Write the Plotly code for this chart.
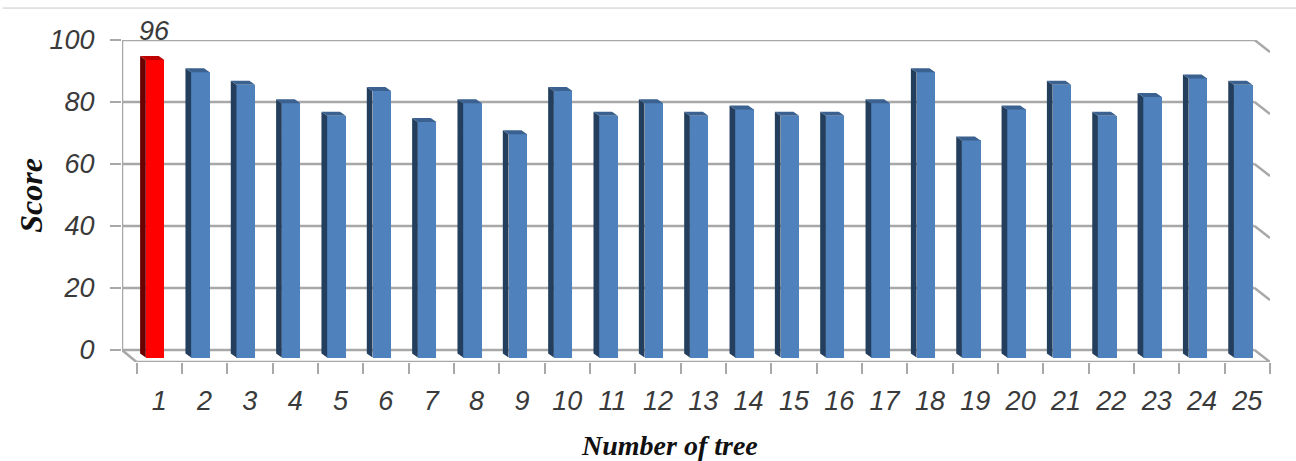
import plotly.graph_objects as go

trees = list(range(1, 26))
scores = [96, 92, 88, 82, 78, 86, 76, 82, 72, 86, 78, 82, 78, 80, 78, 78, 82, 92, 70, 80, 88, 78, 84, 90, 88]
y_ticks = [0, 20, 40, 60, 80, 100]

W, H = 1296, 461
L, R, T, B = 121.5, 1270, 39.5, 362
X0 = 0.18
X1 = 25.5
Y_MIN = -12 / 3.105
GRID = "#A8A8A8"
TXT = "#3A3A3A"
FONT = "Liberation Sans"
SERIF = "Liberation Serif"

WALL_X = 25.16
FLOOR_L = 0.5
DIAG = -Y_MIN
BASE = -7.5 / 3.105          # front plane of the bars, in y units
BAR_W = 0.41
BAR_SHIFT = -0.09
DEPTH_X = 5.7 / 45.36
DEPTH_Y = 4 / 3.105


def px_x(p):
    return (p - L) / (R - L)


def px_y(p):
    return (B - p) / (B - T)


def poly(idx, kind):
    xs, ys = [], []
    for i in idx:
        x, v = trees[i] + BAR_SHIFT, scores[i]
        a, b = x - BAR_W / 2, x + BAR_W / 2
        top = BASE + v
        if kind == "side":
            px = [a, a - DEPTH_X, a - DEPTH_X, a, a]
            py = [BASE, BASE + DEPTH_Y, top + DEPTH_Y, top, BASE]
        else:
            px = [a, a - DEPTH_X, b - DEPTH_X, b, a]
            py = [top, top + DEPTH_Y, top + DEPTH_Y, top, top]
        xs += px + [None]
        ys += py + [None]
    return xs, ys


fig = go.Figure()
fig.add_bar(
    x=trees, y=scores, base=BASE, width=BAR_W, offset=BAR_SHIFT - BAR_W / 2,
    marker=dict(color=["#FF0000"] + ["#4F81BD"] * 24, line=dict(width=0)),
    showlegend=False,
)
blue = list(range(1, 25))
for idx, kind, col in [
    (blue, "side", "#243F5E"), (blue, "top", "#3A618F"),
    ([0], "side", "#6A0000"), ([0], "top", "#C00000"),
]:
    xs, ys = poly(idx, kind)
    fig.add_scatter(x=xs, y=ys, mode="lines", fill="toself", fillcolor=col,
                    line=dict(width=0, color=col), hoverinfo="skip", showlegend=False)

shapes = [dict(type="line", xref="paper", yref="paper",
               x0=px_x(2), x1=px_x(W), y0=px_y(7.5), y1=px_y(7.5),
               line=dict(color="#C8C8C8", width=1))]
line = dict(color=GRID, width=2.5)
for t in y_ticks:
    shapes.append(dict(type="line", x0=X0, x1=WALL_X, y0=t, y1=t, line=line, layer="below"))
    shapes.append(dict(type="line", x0=WALL_X, x1=X1, y0=t, y1=t - DIAG, line=line, layer="below"))
shapes += [
    dict(type="line", x0=X0, x1=X0, y0=0, y1=100, line=line, layer="below"),
    dict(type="line", x0=X0, x1=FLOOR_L, y0=0, y1=-DIAG, line=line, layer="below"),
    dict(type="line", x0=FLOOR_L, x1=X1, y0=-DIAG, y1=-DIAG, line=line, layer="below"),
]

title_font = dict(family=SERIF, color="#111111", weight="bold", style="italic")
fig.update_layout(
    width=W, height=H, autosize=False, hovermode=False,
    margin=dict(l=L, r=W - R, t=T, b=H - B, pad=0),
    paper_bgcolor="white", plot_bgcolor="white",
    shapes=shapes, bargap=0,
    annotations=[
        dict(x=1 + BAR_SHIFT, y=BASE + scores[0], text=str(scores[0]), showarrow=False,
             yanchor="bottom", yshift=12, xshift=-1,
             font=dict(family=FONT, size=27, color=TXT, style="italic")),
        dict(xref="paper", yref="paper", x=px_x(669), y=px_y(446), text="Number of tree",
             showarrow=False, xanchor="center", yanchor="middle", font=dict(size=28, **title_font)),
        dict(xref="paper", yref="paper", x=px_x(31), y=px_y(195), text="Score", textangle=-90,
             showarrow=False, xanchor="center", yanchor="middle", font=dict(size=32, **title_font)),
    ],
    xaxis=dict(
        range=[X0, X1], showgrid=False, zeroline=False, showline=False, automargin=False,
        tickmode="array", tickvals=trees, ticktext=[str(t) for t in trees],
        ticks="", ticklabelstandoff=20,
        tickfont=dict(family=FONT, size=27, color=TXT, style="italic"),
        minor=dict(tickmode="array", tickvals=[t - 0.5 for t in trees] + [trees[-1] + 0.5],
                   ticks="outside", ticklen=11, tickwidth=2, tickcolor=GRID, showgrid=False),
    ),
    yaxis=dict(
        range=[Y_MIN, 100], showgrid=False, zeroline=False, showline=False, automargin=False,
        tickmode="array", tickvals=y_ticks, ticks="outside", ticklen=11, tickwidth=2, tickcolor=GRID,
        ticklabelstandoff=10,
        tickfont=dict(family=FONT, size=27, color=TXT, style="italic"),
    ),
)
fig.write_html("out.html", config=dict(displayModeBar=False),
               post_script="document.body.style.margin='0';")
